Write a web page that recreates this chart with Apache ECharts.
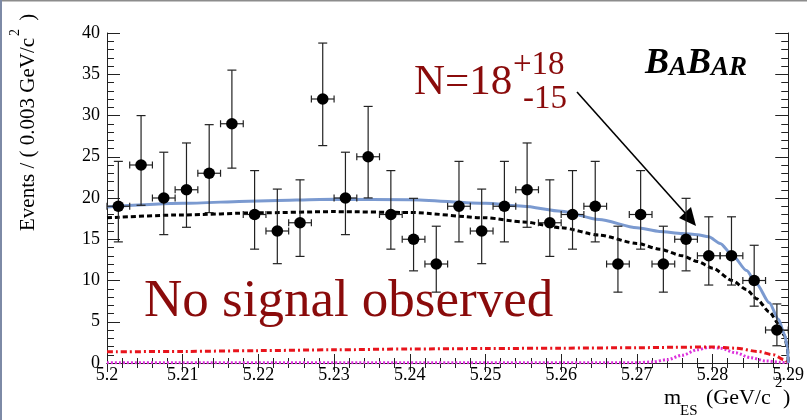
<!DOCTYPE html>
<html>
<head>
<meta charset="utf-8">
<script src="https://cdn.jsdelivr.net/npm/echarts@6/dist/echarts.min.js"></script>
<style>
html,body{margin:0;padding:0;background:#fff;}
#c{width:807px;height:420px;}
</style>
</head>
<body>
<div id="c"></div>
<script>
// ---- data ----
const binWidth = 0.003;
const binCenters = [5.2015,5.2045,5.2075,5.2105,5.2135,5.2165,5.2195,5.2225,5.2255,5.2285,
                    5.2315,5.2345,5.2375,5.2405,5.2435,5.2465,5.2495,5.2525,5.2555,5.2585,
                    5.2615,5.2645,5.2675,5.2705,5.2735,5.2765,5.2795,5.2825,5.2855,5.2885];
const counts = [19,24,20,21,23,29,18,16,17,32,20,25,18,15,12,19,16,19,21,17,18,19,12,18,12,15,13,13,10,4];
const errHi = [5.44,5.99,5.55,5.67,5.89,6.50,5.32,5.08,5.20,6.78,5.55,6.10,5.32,4.96,4.58,5.44,5.08,5.44,5.67,5.20,5.32,5.44,4.58,5.32,4.58,4.96,4.72,4.72,4.27,3.16];
const errLo = [4.32,4.88,4.44,4.55,4.77,5.38,4.20,3.96,4.08,5.65,4.44,4.99,4.20,3.83,3.41,4.32,3.96,4.32,4.55,4.08,4.20,4.32,3.41,4.20,3.41,3.83,3.55,3.55,3.11,1.91];

// total fit (solid blue)
const totalX = [5.200,5.210,5.220,5.230,5.240,5.250,5.255,5.260,5.265,5.270,5.273,5.276,5.278,5.2795,5.281,5.2826,5.2845,5.2858,5.2875,5.2887,5.2895,5.2899,5.2900];
const totalY = [18.9,19.35,19.65,19.85,19.8,19.35,19.0,18.4,17.4,16.4,15.95,15.7,15.55,15.3,14.5,13.1,11.2,9.6,7.3,5.3,3.5,1.9,0.0];
// continuum background (black dashed)
const bkgX = [5.200,5.210,5.220,5.230,5.240,5.250,5.255,5.260,5.265,5.270,5.273,5.276,5.278,5.280,5.2826,5.2845,5.2858,5.2875,5.2887,5.2895,5.2899,5.2900];
const bkgY = [17.6,17.95,18.2,18.35,18.25,17.6,17.1,16.4,15.5,14.5,13.8,13.0,12.3,11.5,10.0,8.9,7.8,6.2,4.8,3.3,1.8,0.0];
// B background (red dash-dot)
const bbX = [5.200,5.210,5.220,5.230,5.240,5.250,5.260,5.270,5.275,5.280,5.283,5.286,5.288,5.2895,5.2900];
const bbY = [1.35,1.40,1.50,1.60,1.70,1.75,1.80,1.85,1.90,1.95,1.80,1.40,1.00,0.40,0.00];
// signal (magenta dotted)
const sigX = [5.200,5.250,5.270,5.272,5.274,5.276,5.278,5.2795,5.281,5.283,5.285,5.287,5.289,5.290];
const sigY = [0.03,0.03,0.04,0.12,0.40,0.95,1.60,1.90,1.80,1.25,0.65,0.25,0.08,0.00];

const xTicks = {min:5.2, max:5.29, step:0.01};
const yTicks = {min:0, max:40, step:5};
// ---------------------------------------

const pts = binCenters.map((x,i)=>[x, counts[i], counts[i]-errLo[i], counts[i]+errHi[i]]);
const zip = (a,b)=>a.map((v,i)=>[v,b[i]]);
const SERIF = '"Liberation Serif", "Times New Roman", serif';
const RED = '#8a0b0b';

const chart = echarts.init(document.getElementById('c'), null, {renderer:'canvas'});

const axisCommon = {
  axisLine:{show:true, lineStyle:{color:'#222', width:1}},
  splitLine:{show:false}
};
function txt(x, y, text, size, color, extra){
  return Object.assign({type:'text', x:x, y:y, silent:true,
    style:{text:text, fontFamily:SERIF, fontSize:size, fill:color||'#000', textAlign:'left', textVerticalAlign:'middle'}}, extra||{});
}

chart.setOption({
  animation:false,
  backgroundColor:'#fff',
  grid:{left:107, right:17, top:33, bottom:57, containLabel:false},
  xAxis:[
    Object.assign({}, axisCommon, {
      type:'value', min:xTicks.min, max:xTicks.max, interval:xTicks.step, position:'bottom',
      axisTick:{show:true, inside:true, length:9, lineStyle:{color:'#222'}},
      minorTick:{show:true, splitNumber:5, length:5, lineStyle:{color:'#222'}},
      axisLabel:{show:true, showMaxLabel:true, showMinLabel:true, margin:3, color:'#000',
        fontFamily:SERIF, fontSize:18,
        formatter:v=>{const s=(+v).toFixed(2); return s.endsWith('0')? s.slice(0,-1): s;}}
    }),
    Object.assign({}, axisCommon, {
      type:'value', min:xTicks.min, max:xTicks.max, interval:xTicks.step, position:'top',
      axisTick:{show:true, inside:true, length:9, lineStyle:{color:'#222'}},
      minorTick:{show:true, splitNumber:5, length:5, lineStyle:{color:'#222'}},
      axisLabel:{show:false}
    })
  ],
  yAxis:[
    Object.assign({}, axisCommon, {
      type:'value', min:yTicks.min, max:yTicks.max, interval:yTicks.step, position:'left',
      axisTick:{show:true, inside:true, length:13, lineStyle:{color:'#222'}},
      minorTick:{show:true, splitNumber:5, length:7, lineStyle:{color:'#222'}},
      axisLabel:{show:true, margin:7, color:'#000', fontFamily:SERIF, fontSize:18}
    }),
    Object.assign({}, axisCommon, {
      type:'value', min:yTicks.min, max:yTicks.max, interval:yTicks.step, position:'right',
      axisTick:{show:true, inside:true, length:13, lineStyle:{color:'#222'}},
      minorTick:{show:true, splitNumber:5, length:7, lineStyle:{color:'#222'}},
      axisLabel:{show:false}
    })
  ],
  series:[
    {type:'line', data:zip(sigX,sigY), showSymbol:false, smooth:0.3, smoothMonotone:'x',
     lineStyle:{color:'#dd33dd', width:3, type:[2,2]}, z:2},
    {type:'line', data:zip(bbX,bbY), showSymbol:false, smooth:0.3, smoothMonotone:'x',
     lineStyle:{color:'#e8141c', width:3, type:[6,3,2,3]}, z:2},
    {type:'line', data:zip(bkgX,bkgY), showSymbol:false, smooth:0.25, smoothMonotone:'x',
     lineStyle:{color:'#000', width:3, type:[5,3]}, z:3},
    {type:'line', data:zip(totalX,totalY), showSymbol:false, smooth:0.25, smoothMonotone:'x',
     lineStyle:{color:'#7b9ad0', width:3}, z:3},
    {type:'custom', data:pts, z:4,
     renderItem:(params, api)=>{
       const x=api.value(0), y=api.value(1), lo=api.value(2), hi=api.value(3);
       const c=api.coord([x,y]);
       const pLo=api.coord([x,lo]), pHi=api.coord([x,hi]);
       const pL=api.coord([x-binWidth/2,y]), pR=api.coord([x+binWidth/2,y]);
       const st={stroke:'#222', lineWidth:1.2};
       return {type:'group', children:[
         {type:'line', shape:{x1:c[0],y1:pLo[1],x2:c[0],y2:pHi[1]}, style:st},
         {type:'line', shape:{x1:c[0]-4.5,y1:pLo[1],x2:c[0]+4.5,y2:pLo[1]}, style:st},
         {type:'line', shape:{x1:c[0]-4.5,y1:pHi[1],x2:c[0]+4.5,y2:pHi[1]}, style:st},
         {type:'line', shape:{x1:pL[0],y1:c[1],x2:pR[0],y2:c[1]}, style:st},
         {type:'line', shape:{x1:pL[0],y1:c[1]-3.5,x2:pL[0],y2:c[1]+3.5}, style:st},
         {type:'line', shape:{x1:pR[0],y1:c[1]-3.5,x2:pR[0],y2:c[1]+3.5}, style:st},
         {type:'circle', shape:{cx:c[0],cy:c[1],r:5.8}, style:{fill:'#000'}}
       ]};
     }}
  ],
  graphic:[
    {type:'line', shape:{x1:0,y1:0.5,x2:807,y2:0.5}, style:{stroke:'#8c8c8c', lineWidth:2}, silent:true},
    {type:'line', shape:{x1:1,y1:0,x2:1,y2:420}, style:{stroke:'#7d8aa6', lineWidth:2}, silent:true},
    // y axis title (reads bottom to top)
    txt(28, 231, 'Events / ( 0.003 GeV/c', 21, '#000', {rotation:Math.PI/2}),
    txt(15, 36, '2', 14, '#000', {rotation:Math.PI/2}),
    txt(28, 26, ' )', 21, '#000', {rotation:Math.PI/2}),
    // x axis title
    txt(664, 398, 'm', 22),
    txt(680, 411, 'ES', 15),
    txt(706, 398, '(GeV/c', 22),
    txt(775, 383, '2', 15),
    txt(783, 398, ')', 22),
    // annotations
    txt(414, 83, 'N=18', 43, RED),
    txt(513, 65, '+18', 33, RED),
    txt(523, 99, '-15', 33, RED),
    txt(144, 302, 'No signal observed', 53, RED),
    {type:'text', x:645, y:82, silent:true, style:{
      text:'{b|B}{s|A}{b|B}{s|AR}', textAlign:'left', textVerticalAlign:'bottom',
      rich:{
        b:{fontFamily:SERIF, fontWeight:'bold', fontStyle:'italic', fontSize:36, lineHeight:36, verticalAlign:'bottom', color:'#000'},
        s:{fontFamily:SERIF, fontWeight:'bold', fontStyle:'italic', fontSize:27, lineHeight:30, verticalAlign:'bottom', color:'#000'}
      }}},
    // arrow
    {type:'line', shape:{x1:577,y1:92,x2:686,y2:214}, style:{stroke:'#000', lineWidth:1.6}, silent:true},
    {type:'polygon', shape:{points:[[696,226],[679,218],[691,207]]}, style:{fill:'#000'}, silent:true}
  ]
});
</script>
</body>
</html>
